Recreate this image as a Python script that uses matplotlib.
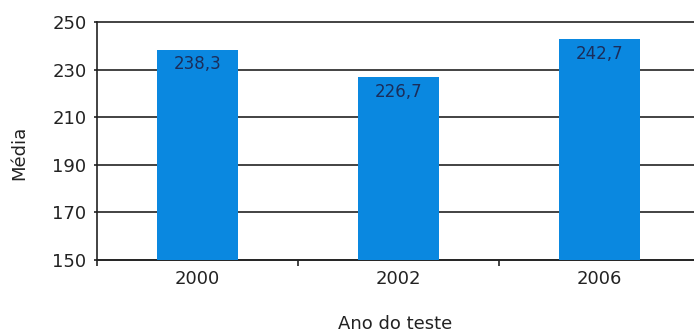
import matplotlib
matplotlib.use("Agg")
import matplotlib.pyplot as plt

years = ["2000", "2002", "2006"]
medias = [238.3, 226.7, 242.7]
y_ticks = [150, 170, 190, 210, 230, 250]

fig = plt.figure(figsize=(6.94, 3.34), dpi=100)
ax = fig.add_axes([97 / 694, 74 / 334, 603 / 694, 238 / 334])

x = list(range(len(years)))
ax.bar(x, [m - 150 for m in medias], bottom=150, width=0.4,
       color="#0a88e0", zorder=3)

for xi, m in zip(x, medias):
    lbl = f"{m:.1f}".replace(".", ",")
    ax.text(xi, m - 6.0, lbl, ha="center", va="center",
            fontsize=12, color="#1b2d5a", zorder=4)

ax.set_xlim(-0.5, 2.5)
ax.set_ylim(150, 250)
ax.set_yticks(y_ticks)
ax.set_yticklabels([str(t) for t in y_ticks], fontsize=13, color="#222222")
ax.set_xticks(x)
ax.set_xticklabels(years, fontsize=13, color="#222222")
ax.set_xticks([-0.5, 0.5, 1.5, 2.5], minor=True)

ax.tick_params(axis="x", which="major", length=0, pad=7)
ax.tick_params(axis="x", which="minor", length=4, width=1.2, color="#222222")
ax.tick_params(axis="y", length=2.5, width=1.2, color="#222222", pad=5)

ax.yaxis.grid(True, color="#222222", linewidth=1.2, zorder=0)
ax.set_axisbelow(True)
for gl in ax.get_ygridlines():
    gl.set_clip_on(False)

for side in ("top", "right"):
    ax.spines[side].set_visible(False)
for side in ("left", "bottom"):
    ax.spines[side].set_linewidth(1.2)
    ax.spines[side].set_color("#222222")

ax.set_ylabel("Média", fontsize=13, color="#222222", va="center")
ax.yaxis.set_label_coords(-0.1285, 0.452)
ax.set_xlabel("Ano do teste", fontsize=13, color="#222222", va="center")
ax.xaxis.set_label_coords(0.494, -0.269)

fig.savefig("out.png", dpi=100)
